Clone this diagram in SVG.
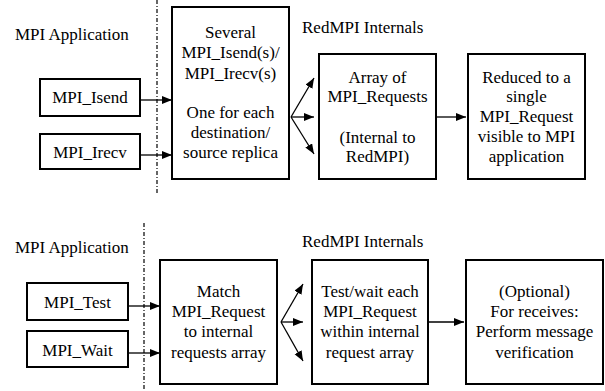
<svg xmlns="http://www.w3.org/2000/svg" width="605" height="391" viewBox="0 0 605 391">
<style>
text{font-family:Liberation Serif,DejaVu Serif,Times,serif;font-size:17px}
.c{text-anchor:middle}
.box{fill:#fff;stroke:#000;stroke-width:2}
.sep{stroke:#000;stroke-width:1.2;stroke-dasharray:4 2 1 2;fill:none}
.ar{stroke:#000;stroke-width:1.3;fill:none;marker-end:url(#ah)}
</style>
<defs>
<marker id="ah" markerUnits="userSpaceOnUse" markerWidth="11" markerHeight="9" refX="10" refY="4" orient="auto">
<path d="M0,0 L10,4 L0,8 z" fill="#000"/>
</marker>
</defs>
<rect width="605" height="391" fill="#fff"/>
<g id="labels">
<line class="sep" x1="157" y1="0" x2="157" y2="195"/>
<line class="sep" x1="144" y1="223" x2="144" y2="391"/>
<text x="15" y="40">MPI Application</text>
<text x="302" y="33">RedMPI Internals</text>
<text x="15" y="253">MPI Application</text>
<text x="302" y="247">RedMPI Internals</text>
</g>
<g id="connectors">
<line class="ar" x1="140" y1="100" x2="172" y2="100"/>
<line class="ar" x1="140" y1="155" x2="172" y2="155"/>
<line class="ar" x1="291" y1="117" x2="314" y2="78"/>
<line class="ar" x1="291" y1="117" x2="314" y2="117"/>
<line class="ar" x1="291" y1="117" x2="314" y2="154"/>
<line class="ar" x1="436" y1="117" x2="466" y2="117"/>
<line class="ar" x1="128" y1="306" x2="160" y2="306"/>
<line class="ar" x1="128" y1="353" x2="160" y2="353"/>
<line class="ar" x1="281" y1="322" x2="303" y2="284"/>
<line class="ar" x1="281" y1="322" x2="303" y2="322"/>
<line class="ar" x1="281" y1="322" x2="303" y2="361"/>
<line class="ar" x1="428" y1="322" x2="464" y2="322"/>
</g>
<g id="isend"><rect class="box" x="40" y="79" width="100" height="37"/><text class="c" x="90" y="103">MPI_Isend</text></g>
<g id="irecv"><rect class="box" x="40" y="134" width="100" height="35"/><text class="c" x="90" y="158">MPI_Irecv</text></g>
<g id="several"><rect class="box" x="172" y="7" width="117" height="172"/>
<text class="c" x="230.5" y="38">Several</text>
<text class="c" x="230.5" y="58">MPI_Isend(s)/</text>
<text class="c" x="230.5" y="79">MPI_Irecv(s)</text>
<text class="c" x="230.5" y="118">One for each</text>
<text class="c" x="230.5" y="138">destination/</text>
<text class="c" x="230.5" y="158">source replica</text></g>
<g id="array"><rect class="box" x="319" y="54" width="117" height="125"/>
<text class="c" x="377.5" y="83">Array of</text>
<text class="c" x="377.5" y="102">MPI_Requests</text>
<text class="c" x="377.5" y="143">(Internal to</text>
<text class="c" x="377.5" y="162">RedMPI)</text></g>
<g id="reduced"><rect class="box" x="468" y="54" width="117" height="125"/>
<text class="c" x="526.5" y="83">Reduced to a</text>
<text class="c" x="526.5" y="102">single</text>
<text class="c" x="526.5" y="122">MPI_Request</text>
<text class="c" x="526.5" y="142">visible to MPI</text>
<text class="c" x="526.5" y="162">application</text></g>
<g id="test"><rect class="box" x="27" y="283" width="101" height="37"/><text class="c" x="77.5" y="308">MPI_Test</text></g>
<g id="wait"><rect class="box" x="27" y="331" width="101" height="36"/><text class="c" x="77.5" y="356">MPI_Wait</text></g>
<g id="match"><rect class="box" x="160" y="260" width="117" height="124"/>
<text class="c" x="218.5" y="297">Match</text>
<text class="c" x="218.5" y="317">MPI_Request</text>
<text class="c" x="218.5" y="337">to internal</text>
<text class="c" x="218.5" y="358">requests array</text></g>
<g id="testwait"><rect class="box" x="312" y="260" width="116" height="124"/>
<text class="c" x="370" y="297">Test/wait each</text>
<text class="c" x="370" y="317">MPI_Request</text>
<text class="c" x="370" y="337">within internal</text>
<text class="c" x="370" y="358">request array</text></g>
<g id="optional"><rect class="box" x="466" y="260" width="137" height="124"/>
<text class="c" x="534.5" y="297">(Optional)</text>
<text class="c" x="534.5" y="317">For receives:</text>
<text class="c" x="534.5" y="337">Perform message</text>
<text class="c" x="534.5" y="358">verification</text></g>
</svg>
